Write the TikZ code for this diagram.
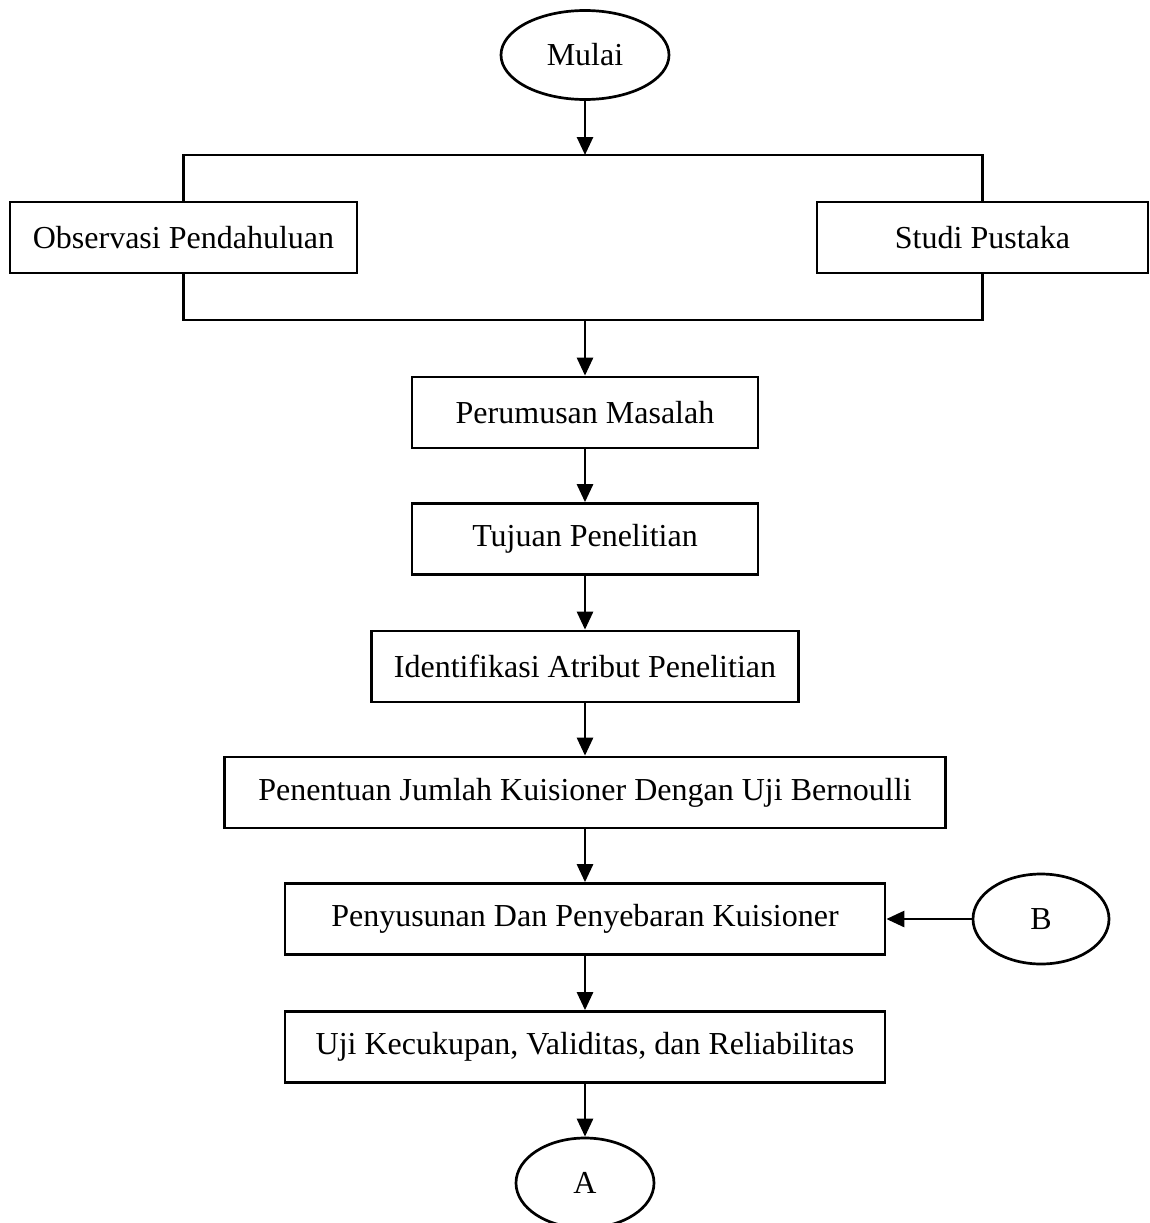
\documentclass[tikz,border=0pt]{standalone}
\usepackage{fontspec}
\setmainfont{Liberation Serif}
\usetikzlibrary{shapes.geometric,arrows.meta}
\begin{document}
\begin{tikzpicture}[x=1pt,y=-1pt,
  every node/.style={font=\fontsize{32}{38}\selectfont, line width=2.7pt, inner sep=0pt},
  procbox/.style={draw, rectangle, minimum height=71pt},
  term/.style={draw, ellipse},
  conn/.style={line width=2.7pt},
  arr/.style={conn, -{Triangle[length=18pt,width=16pt]}}]
\useasboundingbox (0,0) rectangle (1149,1223);
\node[term, minimum width=168pt, minimum height=89pt] (mulai) at (585,55) {Mulai};
\node[procbox, minimum width=347pt] (obs) at (183.5,237.5) {Observasi Pendahuluan};
\node[procbox, minimum width=331pt] (studi) at (982.5,237.5) {Studi Pustaka};
\coordinate (tl) at (183.5,155);
\coordinate (tr) at (982.5,155);
\coordinate (tm) at (585,155);
\coordinate (bl) at (183.5,320);
\coordinate (br) at (982.5,320);
\coordinate (bm) at (585,320);
\node[procbox, minimum width=346pt] (rumus) at (585,412.5) {Perumusan Masalah};
\node[procbox, minimum width=346pt] (tujuan) at (585,539) {Tujuan Penelitian};
\node[procbox, minimum width=427pt] (ident) at (585,666.5) {Identifikasi Atribut Penelitian};
\node[procbox, minimum width=721pt] (tentu) at (585,792.5) {Penentuan Jumlah Kuisioner Dengan Uji Bernoulli};
\node[procbox, minimum width=600pt] (susun) at (585,919) {Penyusunan Dan Penyebaran Kuisioner};
\node[term, minimum width=136pt, minimum height=90pt] (B) at (1041,919) {B};
\node[procbox, minimum width=600pt] (uji) at (585,1047) {Uji Kecukupan, Validitas, dan Reliabilitas};
\node[term, minimum width=138pt, minimum height=90pt] (A) at (585,1183) {A};
\draw[arr] (mulai.south) -- (tm);
\draw[conn] (obs.north) -- (tl) -- (tr) -- (studi.north);
\draw[conn] (obs.south) -- (bl) -- (br) -- (studi.south);
\draw[arr] (bm) -- (rumus.north);
\draw[arr] (rumus.south) -- (tujuan.north);
\draw[arr] (tujuan.south) -- (ident.north);
\draw[arr] (ident.south) -- (tentu.north);
\draw[arr] (tentu.south) -- (susun.north);
\draw[arr] (B.west) -- (susun.east);
\draw[arr] (susun.south) -- (uji.north);
\draw[arr] (uji.south) -- (A.north);
\end{tikzpicture}
\end{document}
